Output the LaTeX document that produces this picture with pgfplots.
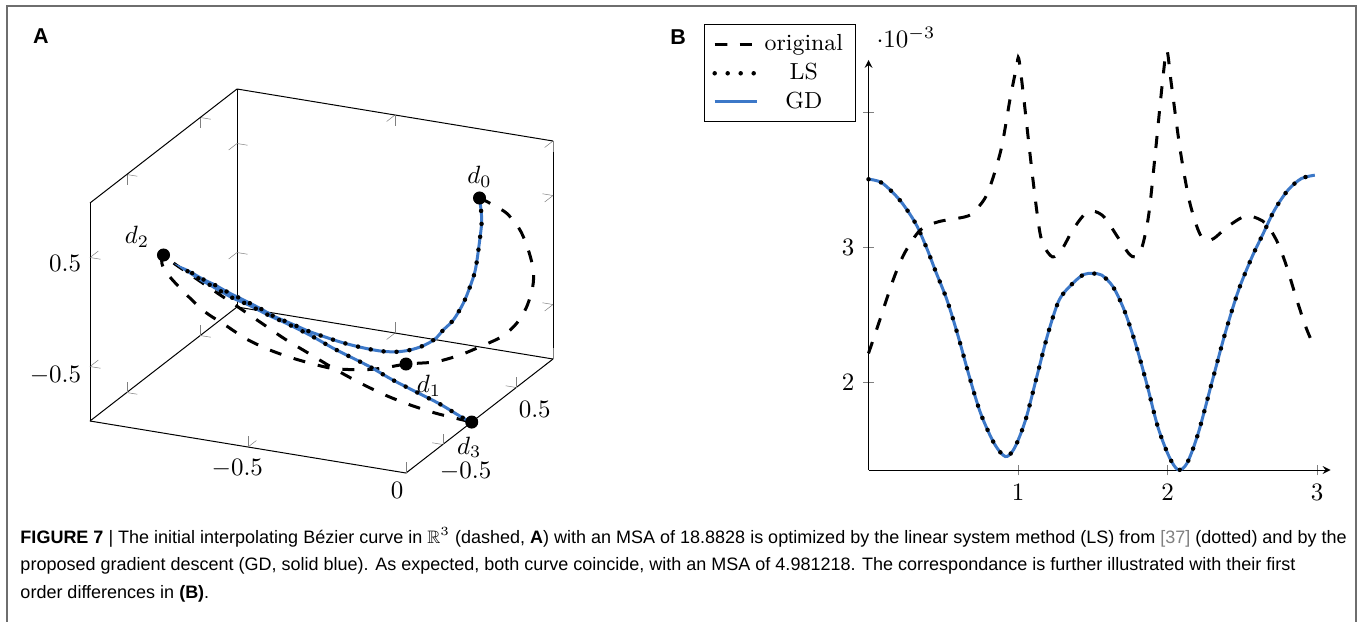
\documentclass[border=0pt]{standalone}
\usepackage{fontspec}
\usepackage{amssymb}
\usepackage{pgfplots}
\pgfplotsset{compat=1.18}
\newfontfamily\capfont{Liberation Sans}
\definecolor{gdblue}{RGB}{60,120,200}
\definecolor{framegray}{RGB}{110,110,110}
\pgfplotsset{
  orig/.style={black, line width=1.2pt, dash pattern=on 4.8pt off 5.2pt},
  ls/.style={black, line width=1.8pt, line cap=round, dash pattern=on 0pt off 5.2pt},
  gd/.style={gdblue, line width=1.2pt},
}
\begin{document}
\begin{tikzpicture}[x=0.4pt, y=-0.4pt]
\useasboundingbox (0,0) rectangle (1363,621);
\draw[framegray, line width=0.6pt] (7,640) -- (7,6) -- (1356,6) -- (1356,640);
\coordinate (posA) at (90,473);
\coordinate (posB) at (868.5,470);

% panel A
\node[font=\capfont\bfseries\fontsize{8.6}{10}\selectfont] at (41,36) {A};
\begin{axis}[at={(posA)}, anchor=south west,
  x={(126.4pt,-20.8pt)}, y={(29.4pt,22.8pt)}, z={(0pt,43.6pt)},
  xmin=-1, xmax=0, ymin=-1, ymax=1, zmin=-1, zmax=1,
  xtick={-0.5,0}, ytick={-0.5,0.5}, ztick={-0.5,0.5},
  tick style={gray}, clip=false]
\addplot3[orig, smooth] coordinates {
  (0,0,1) (0,0.143,0.877) (0,0.370,0.666) (0,0.551,0.418) (0,0.664,0.176)
  (0,0.732,-0.043) (0,0.724,-0.192) (0,0.642,-0.333) (0,0.506,-0.414)
  (0,0.302,-0.430) (0,0.007,-0.368) (0,-0.265,-0.302) (0,-0.582,-0.197)
  (0,-0.854,-0.070) (0,-1,0)
  (-0.078,-0.921,-0.109) (-0.148,-0.852,-0.198) (-0.231,-0.769,-0.282)
  (-0.305,-0.695,-0.345) (-0.367,-0.633,-0.376) (-0.466,-0.533,-0.414)
  (-0.561,-0.439,-0.433) (-0.656,-0.344,-0.429) (-0.746,-0.253,-0.389)
  (-0.829,-0.171,-0.350) (-0.911,-0.088,-0.263) (-0.980,-0.020,-0.164)
  (-1,-0.020,-0.072) (-1,0,0)
  (-0.963,-0.004,-0.063) (-0.930,-0.008,-0.109) (-0.849,-0.016,-0.223)
  (-0.768,-0.024,-0.335) (-0.687,-0.033,-0.448) (-0.606,-0.042,-0.561)
  (-0.525,-0.050,-0.656) (-0.444,-0.060,-0.750) (-0.362,-0.068,-0.834)
  (-0.281,-0.076,-0.902) (-0.200,-0.084,-0.950) (-0.119,-0.094,-0.980)
  (-0.054,-0.101,-0.992) (0,-0.106,-1)};
\addplot3[gd, smooth] coordinates {
  (0,0,1) (0,0.030,0.783) (0,-0.003,0.586) (0,-0.057,0.370) (0,-0.129,0.254)
  (0,-0.220,0.150) (0,-0.356,0.067) (0,-0.493,0.047) (0,-0.605,0.023)
  (0,-0.765,0.045) (0,-0.946,0.100) (-0.038,-0.962,0.074) (-0.094,-0.906,0.022)
  (-0.148,-0.852,-0.013) (-0.197,-0.803,-0.038) (-0.252,-0.748,-0.062)
  (-0.306,-0.694,-0.079) (-0.396,-0.604,-0.100) (-0.444,-0.556,-0.102)
  (-0.492,-0.507,-0.105) (-0.547,-0.453,-0.107) (-0.595,-0.405,-0.093)
  (-0.643,-0.356,-0.087) (-0.692,-0.309,-0.080) (-0.739,-0.260,-0.076)
  (-0.788,-0.212,-0.063) (-0.836,-0.165,-0.059) (-0.884,-0.117,-0.046)
  (-0.915,-0.084,-0.044) (-0.908,-0.010,-0.125) (-0.882,-0.012,-0.160)
  (-0.849,-0.016,-0.195) (-0.811,-0.020,-0.237) (-0.774,-0.024,-0.276)
  (-0.730,-0.029,-0.306) (-0.692,-0.033,-0.340) (-0.654,-0.037,-0.375)
  (-0.617,-0.041,-0.402) (-0.579,-0.045,-0.433) (-0.525,-0.050,-0.482)
  (-0.487,-0.054,-0.522) (-0.449,-0.059,-0.562) (-0.406,-0.063,-0.601)
  (-0.330,-0.071,-0.669) (-0.260,-0.079,-0.746) (-0.178,-0.087,-0.822)
  (-0.103,-0.095,-0.890) (-0.032,-0.103,-0.973) (0,-0.106,-1)};
\addplot3[ls, smooth] coordinates {
  (0,0,1) (0,0.030,0.783) (0,-0.003,0.586) (0,-0.057,0.370) (0,-0.129,0.254)
  (0,-0.220,0.150) (0,-0.356,0.067) (0,-0.493,0.047) (0,-0.605,0.023)
  (0,-0.765,0.045) (0,-0.946,0.100) (-0.038,-0.962,0.074) (-0.094,-0.906,0.022)
  (-0.148,-0.852,-0.013) (-0.197,-0.803,-0.038) (-0.252,-0.748,-0.062)
  (-0.306,-0.694,-0.079) (-0.396,-0.604,-0.100) (-0.444,-0.556,-0.102)
  (-0.492,-0.507,-0.105) (-0.547,-0.453,-0.107) (-0.595,-0.405,-0.093)
  (-0.643,-0.356,-0.087) (-0.692,-0.309,-0.080) (-0.739,-0.260,-0.076)
  (-0.788,-0.212,-0.063) (-0.836,-0.165,-0.059) (-0.884,-0.117,-0.046)
  (-0.915,-0.084,-0.044) (-0.908,-0.010,-0.125) (-0.882,-0.012,-0.160)
  (-0.849,-0.016,-0.195) (-0.811,-0.020,-0.237) (-0.774,-0.024,-0.276)
  (-0.730,-0.029,-0.306) (-0.692,-0.033,-0.340) (-0.654,-0.037,-0.375)
  (-0.617,-0.041,-0.402) (-0.579,-0.045,-0.433) (-0.525,-0.050,-0.482)
  (-0.487,-0.054,-0.522) (-0.449,-0.059,-0.562) (-0.406,-0.063,-0.601)
  (-0.330,-0.071,-0.669) (-0.260,-0.079,-0.746) (-0.178,-0.087,-0.822)
  (-0.103,-0.095,-0.890) (-0.032,-0.103,-0.973) (0,-0.106,-1)};
\addplot3[only marks, mark=*, mark size=2.4pt, black] coordinates {
  (0,0,1) (0,-1,0) (-1,0,0) (0,-0.106,-1)};
\node[yshift=8.4pt] at (axis cs:0,0,1) {$d_0$};
\node[xshift=9.2pt, yshift=-8.8pt] at (axis cs:0,-1,0) {$d_1$};
\node[xshift=-10.6pt, yshift=7.2pt] at (axis cs:-1,0,0) {$d_2$};
\node[xshift=-1pt, yshift=-10.1pt] at (axis cs:0,-0.106,-1) {$d_3$};
\end{axis}

% panel B
\node[font=\capfont\bfseries\fontsize{8.6}{10}\selectfont] at (678,37) {B};
\begin{axis}[at={(posB)}, anchor=south west, scale only axis,
  width=184.8pt, height=164pt, axis lines=left,
  xmin=0, xmax=3.09, ymin=1.35e-3, ymax=4.39e-3,
  xtick={1,2,3}, ytick={0.002,0.003,0.004},
  tick align=center, tick style={gray}, clip=false,
  legend cell align=center,
  legend style={at={(-0.027,1.087)}, anchor=north east, draw=black, fill=white,
    font=\fontsize{9.3}{10.5}\selectfont, row sep=-0.6pt}]
\addplot[gd, smooth, forget plot] coordinates {
  (0,3.506e-3) (0.09,3.479e-3) (0.21,3.35e-3) (0.315,3.178e-3) (0.39,2.993e-3)
  (0.45,2.82e-3) (0.525,2.61e-3) (0.60,2.34e-3) (0.675,2.04e-3) (0.75,1.77e-3)
  (0.84,1.548e-3) (0.915,1.45e-3) (0.975,1.51e-3) (1.05,1.72e-3) (1.125,2.04e-3)
  (1.20,2.36e-3) (1.275,2.61e-3) (1.365,2.733e-3) (1.44,2.80e-3) (1.50,2.807e-3)
  (1.56,2.795e-3) (1.635,2.709e-3) (1.71,2.536e-3) (1.785,2.29e-3) (1.86,1.993e-3)
  (1.935,1.67e-3) (2.01,1.45e-3) (2.07,1.352e-3) (2.13,1.40e-3) (2.205,1.622e-3)
  (2.295,1.993e-3) (2.385,2.363e-3) (2.475,2.684e-3) (2.565,2.93e-3) (2.64,3.104e-3)
  (2.715,3.277e-3) (2.805,3.425e-3) (2.895,3.511e-3) (2.985,3.536e-3)};
\addplot[orig, smooth] coordinates {
  (0,2.215e-3) (0.075,2.46e-3) (0.165,2.76e-3) (0.24,2.956e-3) (0.345,3.128e-3)
  (0.465,3.19e-3) (0.645,3.227e-3) (0.705,3.264e-3) (0.795,3.40e-3) (0.885,3.72e-3)
  (0.945,4.09e-3) (0.99,4.34e-3) (1.005,4.40e-3) (1.035,4.14e-3) (1.095,3.548e-3)
  (1.14,3.153e-3) (1.17,3.017e-3) (1.23,2.93e-3) (1.29,2.98e-3) (1.365,3.128e-3)
  (1.44,3.24e-3) (1.50,3.27e-3) (1.575,3.227e-3) (1.665,3.08e-3) (1.74,2.956e-3)
  (1.785,2.93e-3) (1.83,3.005e-3) (1.875,3.25e-3) (1.92,3.72e-3) (1.965,4.215e-3)
  (1.995,4.46e-3) (2.025,4.215e-3) (2.085,3.72e-3) (2.145,3.35e-3) (2.205,3.128e-3)
  (2.25,3.054e-3) (2.31,3.067e-3) (2.40,3.153e-3) (2.505,3.227e-3) (2.565,3.23e-3)
  (2.655,3.18e-3) (2.73,3.05e-3) (2.79,2.88e-3) (2.865,2.61e-3) (2.925,2.41e-3)
  (2.97,2.29e-3)};
\addlegendentry{original}
\addplot[ls, smooth] coordinates {
  (0,3.506e-3) (0.09,3.479e-3) (0.21,3.35e-3) (0.315,3.178e-3) (0.39,2.993e-3)
  (0.45,2.82e-3) (0.525,2.61e-3) (0.60,2.34e-3) (0.675,2.04e-3) (0.75,1.77e-3)
  (0.84,1.548e-3) (0.915,1.45e-3) (0.975,1.51e-3) (1.05,1.72e-3) (1.125,2.04e-3)
  (1.20,2.36e-3) (1.275,2.61e-3) (1.365,2.733e-3) (1.44,2.80e-3) (1.50,2.807e-3)
  (1.56,2.795e-3) (1.635,2.709e-3) (1.71,2.536e-3) (1.785,2.29e-3) (1.86,1.993e-3)
  (1.935,1.67e-3) (2.01,1.45e-3) (2.07,1.352e-3) (2.13,1.40e-3) (2.205,1.622e-3)
  (2.295,1.993e-3) (2.385,2.363e-3) (2.475,2.684e-3) (2.565,2.93e-3) (2.64,3.104e-3)
  (2.715,3.277e-3) (2.805,3.425e-3) (2.895,3.511e-3) (2.985,3.536e-3)};
\addlegendentry{LS}
\addlegendimage{gd}
\addlegendentry{GD}
\end{axis}

% caption
\node[anchor=west, align=left, inner sep=0pt,
  font=\capfont\fontsize{7.2}{11}\selectfont] at (20,565) {%
{\bfseries FIGURE 7} | The initial interpolating Bézier curve in $\mathbb{R}^3$ (dashed, {\bfseries A}) with an MSA of 18.8828 is optimized by the linear system method (LS) from {\color{gray}[37]} (dotted) and by the\\
proposed gradient descent (GD, solid blue). As expected, both curve coincide, with an MSA of 4.981218. The correspondance is further illustrated with their first\\
order differences in {\bfseries (B)}.};
\end{tikzpicture}
\end{document}
